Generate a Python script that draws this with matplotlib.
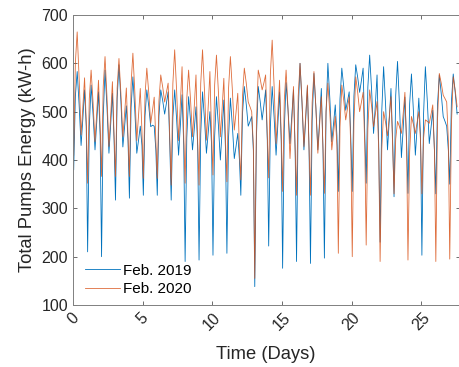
import numpy as np
import matplotlib
matplotlib.use("Agg")
from matplotlib import pyplot as plt

# time of day (fraction) of each reading: dip, rise, peak 1, fall, trough, rise, peak 2, shoulder
phase = [0.05, 0.17, 0.3, 0.44, 0.58, 0.71, 0.83, 0.95]

# Feb. 2019 pump energy, one row per day (kW-h)
feb2019 = [
	[380, 532, 583, 514, 430, 487, 545, 470], [210, 469, 555, 495, 421, 481, 541, 450],
	[200, 490, 586, 509, 414, 476, 538, 440], [317, 527, 597, 521, 427, 470, 512, 440],
	[321, 509, 572, 501, 414, 442, 470, 430], [327, 491, 545, 511, 469, 472, 470, 420],
	[327, 491, 545, 523, 495, 518, 541, 430], [317, 488, 545, 484, 410, 472, 535, 430],
	[190, 446, 531, 481, 421, 465, 510, 430], [193, 454, 541, 484, 414, 457, 500, 430],
	[203, 449, 531, 472, 400, 462, 524, 420], [207, 448, 528, 472, 403, 429, 455, 400],
	[327, 496, 552, 515, 470, 480, 490, 420], [138, 448, 552, 521, 483, 514, 545, 440],
	[222, 469, 552, 488, 410, 475, 541, 440], [176, 464, 560, 503, 434, 490, 545, 420],
	[190, 497, 600, 519, 421, 486, 552, 420], [186, 481, 579, 508, 421, 484, 548, 420],
	[197, 499, 600, 527, 438, 476, 514, 450], [335, 526, 590, 551, 503, 522, 541, 440],
	[335, 532, 597, 571, 540, 565, 590, 450], [352, 551, 617, 544, 455, 515, 576, 430],
	[230, 502, 593, 516, 421, 484, 548, 440], [324, 534, 604, 514, 405, 467, 530, 440],
	[331, 516, 578, 502, 410, 469, 528, 450], [203, 495, 593, 521, 434, 468, 503, 420],
	[330, 514, 576, 537, 490, 480, 470, 420], [350, 521, 578, 540, 495],
]

# Feb. 2020 pump energy, one row per day (kW-h)
feb2020 = [
	[410, 601, 665, 569, 452, 511, 570, 480], [352, 527, 586, 519, 438, 501, 565, 470],
	[366, 552, 614, 530, 428, 495, 562, 450], [366, 549, 610, 537, 448, 498, 549, 450],
	[366, 557, 621, 540, 440, 494, 548, 460], [362, 533, 590, 539, 476, 503, 530, 440],
	[362, 522, 576, 551, 520, 540, 559, 440], [348, 558, 628, 543, 440, 517, 593, 450],
	[352, 527, 586, 524, 448, 512, 576, 440], [348, 558, 628, 544, 441, 512, 583, 450],
	[369, 555, 617, 541, 448, 508, 569, 440], [355, 549, 614, 546, 462, 500, 538, 420],
	[359, 532, 590, 559, 520, 510, 500, 430], [155, 478, 586, 568, 545, 560, 576, 450],
	[363, 577, 648, 552, 434, 500, 565, 450], [335, 523, 586, 504, 403, 478, 552, 420],
	[327, 532, 600, 523, 428, 492, 555, 420], [327, 519, 583, 507, 414, 473, 531, 420],
	[331, 502, 559, 497, 421, 456, 490, 430], [207, 468, 555, 523, 483, 507, 531, 420],
	[200, 479, 572, 540, 500, 520, 540, 430], [224, 465, 545, 511, 469, 495, 521, 420],
	[190, 423, 500, 478, 450, 490, 531, 430], [330, 443, 480, 469, 455, 497, 540, 430],
	[193, 416, 490, 474, 455, 478, 500, 440], [330, 445, 483, 480, 476, 495, 514, 420],
	[190, 482, 579, 559, 534, 527, 520, 440], [195, 474, 572, 545, 510],
]

def flatten(days):
	t = []
	v = []
	for d, row in enumerate(days):
		for p, val in zip(phase, row):
			t.append(d + p)
			v.append(val)
	return np.array(t), np.array(v)

plt.rcParams['font.family'] = ['Liberation Sans', 'DejaVu Sans']
fig = plt.figure(figsize=(4.59, 3.67), dpi=100)
ax = fig.add_axes([73/459, 62/367, 386.5/459, 290/367])

t19, v19 = flatten(feb2019)
t20, v20 = flatten(feb2020)
ax.plot(t19, v19, color="#0072BD", lw=0.6, label="Feb. 2019")
ax.plot(t20, v20, color="#D95319", lw=0.6, alpha=0.85, label="Feb. 2020")

ax.set_xlim(0, 27.75)
ax.set_ylim(100, 700)
ax.set_xticks([0, 5, 10, 15, 20, 25])
ax.set_yticks(range(100, 701, 100))
ax.tick_params(direction="in", length=3, width=0.6, color="#555555", labelsize=11.5,
	labelcolor="#262626", top=True, right=True)
for lbl in ax.get_xticklabels():
	lbl.set_rotation(45)
	lbl.set_ha("center")
	lbl.set_va("top")
for s in ax.spines.values():
	s.set_color("#808080")
	s.set_linewidth(0.7)
ax.set_xlabel("Time (Days)", fontsize=13.2, color="#262626", labelpad=9)
ax.set_ylabel("Total Pumps Energy (kW-h)", fontsize=13.2, color="#262626", labelpad=4)
ax.legend(loc="lower left", bbox_to_anchor=(0.03, 0.03), frameon=False, fontsize=11,
	handlelength=2.3, handletextpad=0.2, labelspacing=0.3, borderpad=0, borderaxespad=0)

plt.savefig("out.png", dpi=100)
